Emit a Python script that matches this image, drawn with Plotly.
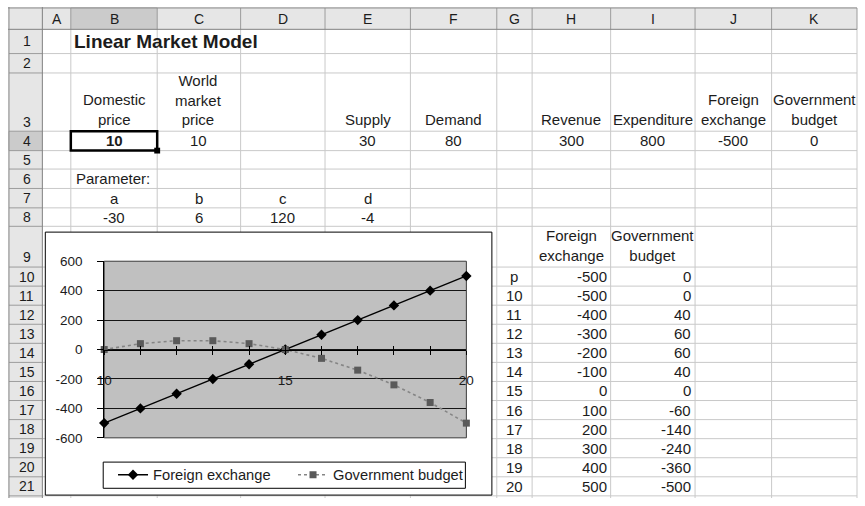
import plotly.graph_objects as go

W, H = 865, 506
FONT = "Liberation Sans, Arial, sans-serif"
INK = "#1c1c1c"

# ---- worksheet values ----
title = "Linear Market Model"
domestic_price = 10
world_price = 10
supply = 30
demand = 80
revenue = 300
expenditure = 800
fx_now = -500
budget_now = 0
param_names = ["a", "b", "c", "d"]
param_values = [-30, 6, 120, -4]

# ---- price scenario table (chart source) ----
prices = [10, 11, 12, 13, 14, 15, 16, 17, 18, 19, 20]
foreign_exchange = [-500, -400, -300, -200, -100, 0, 100, 200, 300, 400, 500]
government_budget = [0, 40, 60, 60, 40, 0, -60, -140, -240, -360, -500]

ytick_vals = [-600, -400, -200, 0, 200, 400, 600]
xlabel_step = 5

# ---- sheet geometry (pixels) ----
col_names = ["A", "B", "C", "D", "E", "F", "G", "H", "I", "J", "K"]
col_edges = [35, 64, 152, 237, 323, 410, 498, 534, 614, 700, 778, 865]
row_edges = [23, 48, 68, 128, 148, 167, 187, 207, 226, 268] + [268 + 19.65 * k for k in range(1, 13)]
HEADER_H = 23
ROWHDR_W = 35
CELL_SIZE = 15


def px(x):
    return x / W


def py(y):
    return 1 - y / H


def col_span(col):
    i = col_names.index(col)
    return col_edges[i], col_edges[i + 1]


def row_span(r):
    return row_edges[r - 1], row_edges[r]


annotations = []


def put(x, y, text, xanchor="center", yanchor="middle", size=CELL_SIZE, bold=False, color=INK):
    if bold:
        text = "<b>%s</b>" % text
    annotations.append(dict(
        x=px(x), y=py(y), xref="paper", yref="paper", text=text, showarrow=False,
        xanchor=xanchor, yanchor=yanchor, align="center",
        font=dict(family=FONT, size=size, color=color),
    ))


def cell(col, row, text, align="center", bold=False, size=CELL_SIZE, valign="middle"):
    x0, x1 = col_span(col)
    y0, y1 = row_span(row)
    if align == "center":
        x, xa = (x0 + x1) / 2, "center"
    elif align == "right":
        x, xa = x1 - 2, "right"
    else:
        x, xa = x0 + 3, "left"
    if valign == "bottom":
        y, ya = y1 - 1, "bottom"
    else:
        y, ya = (y0 + y1) / 2, "middle"
    put(x, y, str(text), xanchor=xa, yanchor=ya, size=size, bold=bold)


shapes = []


def rect(x0, y0, x1, y1, fill=None, line=None, width=1):
    shapes.append(dict(
        type="rect", xref="paper", yref="paper", x0=px(x0), x1=px(x1), y0=py(y1), y1=py(y0),
        fillcolor=fill or "rgba(0,0,0,0)",
        line=dict(color=line or "rgba(0,0,0,0)", width=width if line else 0),
        layer="below",
    ))


def hline(y, x0, x1, color, width=1):
    shapes.append(dict(type="line", xref="paper", yref="paper", x0=px(x0), x1=px(x1),
                       y0=py(y), y1=py(y), line=dict(color=color, width=width), layer="below"))


def vline(x, y0, y1, color, width=1):
    shapes.append(dict(type="line", xref="paper", yref="paper", x0=px(x), x1=px(x),
                       y0=py(y0), y1=py(y1), line=dict(color=color, width=width), layer="below"))


# header bars
HDR = "#e6e6e6"
HDR_SEL = "#cbcbcb"
rect(0, 0, W, HEADER_H, fill=HDR)
rect(0, 0, ROWHDR_W, H, fill=HDR)
b0, b1 = col_span("B")
rect(b0, 0, b1, HEADER_H, fill=HDR_SEL)
r40, r41 = row_span(4)
rect(0, r40, ROWHDR_W, r41, fill=HDR_SEL)

# cell gridlines
GRID = "#c9c9c9"
for x in col_edges[1:]:
    vline(x, HEADER_H, H, GRID)
for y in row_edges[1:]:
    hline(y, ROWHDR_W, W, GRID)

# header separators
SEP = "#9c9c9c"
for x in col_edges[1:]:
    vline(x, 1, HEADER_H, SEP)
for y in row_edges[1:]:
    hline(y, 1, ROWHDR_W, SEP)
hline(HEADER_H, 0, W, "#808080")
vline(ROWHDR_W, 0, H, "#808080")
hline(1, 0, W, "#8a8a8a")
vline(1, 0, H, "#8a8a8a")

# active cell B4
rect(b0, r40, b1, r41, line="#000000", width=2.5)
rect(b1 - 3, r41 - 3, b1 + 3, r41 + 3, fill="#000000")

# embedded chart frame and legend box
rect(38, 232, 493, 503, fill="#ffffff", line="#000000", width=1)
rect(97, 469, 466, 496, fill="#ffffff", line="#000000", width=1)

# plot area fill
shapes.append(dict(type="rect", xref="x domain", yref="y domain", x0=0, x1=1, y0=0, y1=1,
                   fillcolor="#c0c0c0", line=dict(color="#3a3a3a", width=1), layer="below"))

# ---- headers ----
for i, name in enumerate(col_names):
    put((col_edges[i] + col_edges[i + 1]) / 2, HEADER_H / 2 + 0.5, name, size=14)
for r in range(1, 22):
    y0, y1 = row_span(r)
    yc = (y0 + y1) / 2 if r not in (3, 9) else y1 - 10
    put(19, yc, str(r), size=14)

# ---- cells ----
put(col_span("B")[0] + 1, sum(row_span(1)) / 2, title, xanchor="left", size=19, bold=True)

cell("B", 3, "Domestic<br>price", valign="bottom")
cell("C", 3, "World<br>market<br>price", valign="bottom")
cell("E", 3, "Supply", valign="bottom")
cell("F", 3, "Demand", valign="bottom")
cell("H", 3, "Revenue", valign="bottom")
cell("I", 3, "Expenditure", valign="bottom")
cell("J", 3, "Foreign<br>exchange", valign="bottom")
cell("K", 3, "Government<br>budget", valign="bottom")

cell("B", 4, domestic_price, bold=True)
cell("C", 4, world_price)
cell("E", 4, supply)
cell("F", 4, demand)
cell("H", 4, revenue)
cell("I", 4, expenditure)
cell("J", 4, fx_now)
cell("K", 4, budget_now)

cell("B", 6, "Parameter:", align="left")
for col, nm, val in zip(["B", "C", "D", "E"], param_names, param_values):
    cell(col, 7, nm)
    cell(col, 8, val)

cell("H", 9, "Foreign<br>exchange", valign="bottom")
cell("I", 9, "Government<br>budget", valign="bottom")

cell("G", 10, "p")
cell("H", 10, fx_now, align="right")
cell("I", 10, budget_now, align="right")
for k, (p, fx, gb) in enumerate(zip(prices, foreign_exchange, government_budget)):
    cell("G", 11 + k, p)
    cell("H", 11 + k, fx, align="right")
    cell("I", 11 + k, gb, align="right")

# ---- chart ----
ydom = [py(444), py(262)]
xdom = [px(98), px(467)]
ymin, ymax = ytick_vals[0], ytick_vals[-1]
zero_pos = ydom[0] + (0 - ymin) / (ymax - ymin) * (ydom[1] - ydom[0])
xticktext = [str(p) if (p - prices[0]) % xlabel_step == 0 else "" for p in prices]

fig = go.Figure()
fig.add_trace(go.Scatter(
    x=prices, y=foreign_exchange, mode="lines+markers", name="Foreign exchange",
    line=dict(color="#000000", width=1.3),
    marker=dict(symbol="diamond", size=8, color="#000000"),
    cliponaxis=False,
))
fig.add_trace(go.Scatter(
    x=prices, y=government_budget, mode="lines+markers", name="Government budget",
    line=dict(color="#858585", width=1.6, dash="3px,3px"),
    marker=dict(symbol="square", size=7, color="#5a5a5a"),
    cliponaxis=False,
))
# carrier for the upward half of the category tick marks
fig.add_trace(go.Scatter(x=[], y=[], xaxis="x2", yaxis="y", showlegend=False, hoverinfo="skip"))

tickfont = dict(family=FONT, size=13.5, color=INK)
fig.update_layout(
    width=W, height=H,
    margin=dict(l=0, r=0, t=0, b=0, pad=0),
    paper_bgcolor="#ffffff",
    plot_bgcolor="rgba(0,0,0,0)",
    shapes=shapes,
    annotations=annotations,
    showlegend=True,
    legend=dict(
        orientation="h", x=px(107), y=py(482.5), xanchor="left", yanchor="middle",
        bgcolor="rgba(0,0,0,0)", borderwidth=0,
        font=dict(family=FONT, size=14.7, color=INK),
        entrywidth=135, entrywidthmode="pixels",
    ),
    xaxis=dict(
        domain=xdom, range=[prices[0], prices[-1]], anchor="free", position=zero_pos,
        showline=True, linecolor="#000000", linewidth=1,
        ticks="outside", ticklen=4, tickcolor="#000000",
        tickvals=prices, ticktext=xticktext, tickfont=tickfont, ticklabelstandoff=14,
        showgrid=False, zeroline=False, fixedrange=True,
    ),
    xaxis2=dict(
        overlaying="x", range=[prices[0], prices[-1]], anchor="free", position=zero_pos,
        showline=False, ticks="inside", ticklen=4, tickcolor="#000000",
        tickvals=prices, showticklabels=False, showgrid=False, zeroline=False, fixedrange=True,
    ),
    yaxis=dict(
        domain=ydom, range=[ymin, ymax],
        tickvals=ytick_vals, ticktext=[str(v) for v in ytick_vals],
        ticks="outside", ticklen=6, tickcolor="#000000", tickfont=tickfont, ticklabelstandoff=12,
        showgrid=True, gridcolor="#151515", gridwidth=1,
        showline=True, linecolor="#000000", linewidth=1, zeroline=False, fixedrange=True,
    ),
)

fig.write_html("out.html")
